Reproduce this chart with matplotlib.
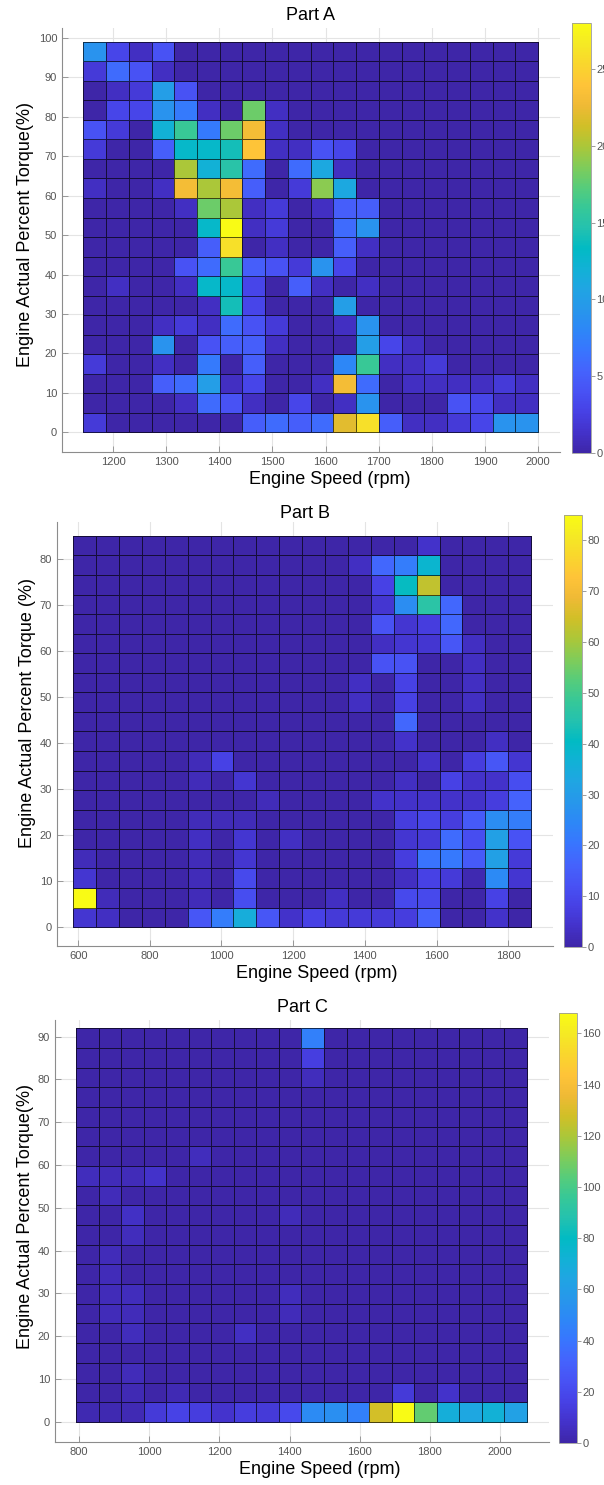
import numpy as np
import matplotlib.pyplot as plt
from matplotlib.colors import LinearSegmentedColormap

# MATLAB parula, sampled every third entry of the 64-colour table
parula_pts = [
    (0.2422, 0.1504, 0.6603), (0.2647, 0.1978, 0.7952), (0.2783, 0.2559, 0.8991),
    (0.2810, 0.3228, 0.9579), (0.2699, 0.3892, 0.9906), (0.2206, 0.4603, 0.9973),
    (0.1786, 0.5289, 0.9682), (0.1540, 0.5902, 0.9218), (0.1248, 0.6459, 0.8883),
    (0.0689, 0.6948, 0.8394), (0.0067, 0.7312, 0.7660), (0.1408, 0.7584, 0.6842),
    (0.2161, 0.7843, 0.5923), (0.3406, 0.8008, 0.4789), (0.5044, 0.7993, 0.3480),
    (0.6720, 0.7793, 0.2227), (0.8203, 0.7498, 0.1535), (0.9393, 0.7288, 0.2100),
    (0.9970, 0.7659, 0.2199), (0.9786, 0.8386, 0.1766), (0.9597, 0.9135, 0.1423),
    (0.9769, 0.9839, 0.0805)]
parula = LinearSegmentedColormap.from_list('parula', parula_pts)

# ---- Part A ----
speed_a = (1144, 2000)   # speed bin range, 20 bins
torque_a = (0, 99)       # torque bin range, 20 bins
# rows from top (high torque) to bottom (low torque)
counts_a = [
    [9, 3, 1, 4, 0, 0, 0, 0, 0, 0, 0, 0, 0, 0, 0, 0, 0, 0, 0, 0],
    [2, 6, 4, 1, 0, 0, 0, 0, 0, 0, 0, 0, 0, 0, 0, 0, 0, 0, 0, 0],
    [0, 1, 2, 10, 4, 0, 0, 0, 0, 0, 0, 0, 0, 0, 0, 0, 0, 0, 0, 0],
    [0, 3, 3, 9, 7, 1, 0, 18, 1, 0, 0, 0, 0, 0, 0, 0, 0, 0, 0, 0],
    [4, 2, 0, 12, 16, 7, 18, 23, 1, 0, 0, 0, 0, 0, 0, 0, 0, 0, 0, 0],
    [2, 0, 0, 5, 13, 13, 14, 24, 1, 1, 4, 3, 0, 0, 0, 0, 0, 0, 0, 0],
    [0, 0, 0, 0, 20, 12, 15, 6, 0, 6, 11, 1, 0, 0, 0, 0, 0, 0, 0, 0],
    [1, 0, 0, 1, 23, 20, 23, 5, 0, 2, 19, 11, 0, 0, 0, 0, 0, 0, 0, 0],
    [0, 0, 0, 0, 1, 18, 20, 1, 2, 0, 1, 5, 5, 0, 0, 0, 0, 0, 0, 0],
    [0, 0, 0, 0, 0, 13, 28, 1, 2, 0, 0, 6, 9, 0, 0, 0, 0, 0, 0, 0],
    [0, 0, 0, 0, 0, 5, 26, 0, 1, 0, 0, 5, 1, 0, 0, 0, 0, 0, 0, 0],
    [0, 0, 0, 0, 4, 6, 16, 5, 4, 2, 9, 3, 0, 0, 0, 0, 0, 0, 0, 0],
    [0, 1, 0, 0, 1, 13, 13, 3, 0, 5, 1, 0, 1, 0, 0, 0, 0, 0, 0, 0],
    [0, 0, 0, 0, 0, 1, 14, 3, 0, 0, 0, 10, 0, 0, 0, 0, 0, 0, 0, 0],
    [0, 0, 0, 1, 2, 1, 6, 4, 2, 0, 0, 1, 9, 0, 0, 0, 0, 0, 0, 0],
    [0, 0, 0, 9, 0, 4, 5, 5, 1, 0, 0, 0, 10, 3, 1, 0, 0, 0, 0, 0],
    [2, 0, 0, 1, 0, 7, 0, 5, 0, 0, 0, 8, 16, 1, 1, 2, 0, 0, 0, 0],
    [0, 0, 0, 5, 6, 10, 1, 3, 0, 0, 1, 23, 6, 0, 1, 1, 1, 1, 2, 1],
    [0, 0, 0, 0, 1, 6, 4, 1, 0, 3, 0, 1, 9, 0, 0, 0, 4, 3, 1, 1],
    [2, 0, 0, 0, 0, 0, 0, 5, 6, 5, 6, 22, 26, 5, 1, 1, 2, 3, 9, 9]]
vmax_a = 28

# ---- Part B ----
speed_b = (586, 1864)
torque_b = (0, 85)
counts_b = [
    [0, 0, 0, 0, 0, 0, 0, 0, 0, 0, 0, 0, 0, 0, 0, 4, 0, 0, 0, 0],
    [0, 0, 0, 0, 0, 0, 0, 0, 0, 0, 0, 0, 3, 17, 22, 38, 0, 0, 0, 0],
    [0, 0, 0, 0, 0, 0, 0, 0, 0, 0, 0, 0, 0, 8, 41, 63, 0, 0, 0, 0],
    [0, 0, 0, 0, 0, 0, 0, 0, 0, 0, 0, 0, 0, 5, 26, 46, 17, 0, 0, 0],
    [0, 0, 0, 0, 0, 0, 0, 0, 0, 0, 0, 0, 0, 12, 5, 7, 17, 0, 0, 0],
    [0, 0, 0, 0, 0, 0, 0, 0, 0, 0, 0, 0, 0, 3, 5, 5, 13, 3, 0, 0],
    [0, 0, 0, 0, 0, 0, 0, 0, 0, 0, 0, 0, 0, 12, 12, 0, 0, 3, 0, 0],
    [0, 0, 0, 0, 0, 0, 0, 0, 0, 0, 0, 0, 3, 0, 8, 0, 0, 3, 0, 0],
    [0, 0, 0, 0, 0, 0, 0, 0, 0, 0, 0, 0, 3, 0, 8, 0, 0, 3, 0, 0],
    [0, 0, 0, 0, 0, 0, 0, 0, 0, 0, 0, 0, 0, 0, 17, 0, 0, 0, 0, 0],
    [0, 0, 0, 0, 0, 0, 0, 0, 0, 0, 0, 0, 0, 0, 4, 0, 0, 0, 3, 0],
    [0, 0, 0, 0, 0, 2, 8, 0, 0, 0, 0, 0, 0, 0, 0, 4, 0, 7, 13, 5],
    [0, 0, 0, 0, 0, 2, 0, 5, 0, 0, 0, 0, 0, 0, 3, 0, 8, 4, 4, 11],
    [0, 0, 0, 0, 0, 0, 0, 0, 2, 0, 0, 0, 0, 4, 4, 4, 4, 4, 7, 16],
    [0, 0, 0, 0, 0, 2, 2, 2, 0, 0, 0, 0, 0, 0, 7, 9, 7, 14, 26, 22],
    [0, 0, 0, 0, 0, 3, 0, 5, 0, 3, 0, 0, 0, 0, 5, 6, 18, 11, 31, 12],
    [2, 0, 0, 0, 0, 2, 0, 5, 0, 0, 0, 0, 0, 0, 7, 20, 21, 14, 31, 6],
    [5, 0, 0, 0, 0, 2, 0, 10, 0, 0, 0, 0, 0, 0, 3, 8, 6, 1, 25, 5],
    [85, 2, 0, 0, 0, 2, 0, 11, 0, 0, 0, 3, 0, 0, 10, 10, 0, 0, 8, 0],
    [5, 3, 0, 0, 0, 13, 22, 35, 13, 4, 8, 6, 6, 6, 7, 16, 0, 0, 4, 0]]
vmax_b = 85

# ---- Part C ----
speed_c = (791, 2077)
torque_c = (0, 92)
counts_c = [
    [0, 0, 0, 0, 0, 0, 0, 0, 0, 0, 45, 0, 0, 0, 0, 0, 0, 0, 0, 0],
    [0, 0, 0, 0, 0, 0, 0, 0, 0, 0, 15, 0, 0, 0, 0, 0, 0, 0, 0, 0],
    [0, 0, 0, 0, 0, 0, 0, 0, 0, 0, 5, 0, 0, 0, 0, 0, 0, 0, 0, 0],
    [0, 0, 0, 0, 0, 0, 0, 0, 0, 0, 0, 0, 0, 0, 0, 0, 0, 0, 0, 0],
    [0, 0, 0, 0, 0, 0, 0, 0, 0, 0, 0, 0, 0, 0, 0, 0, 0, 0, 0, 0],
    [0, 0, 0, 0, 0, 0, 0, 0, 0, 0, 0, 0, 0, 0, 0, 0, 0, 0, 0, 0],
    [0, 0, 0, 0, 0, 5, 0, 0, 0, 0, 0, 0, 0, 0, 0, 0, 0, 0, 0, 0],
    [5, 4, 4, 8, 0, 0, 0, 0, 0, 0, 0, 0, 0, 0, 0, 0, 0, 0, 0, 0],
    [0, 4, 0, 0, 0, 0, 0, 0, 0, 0, 0, 0, 0, 0, 0, 0, 0, 0, 0, 0],
    [0, 0, 7, 0, 0, 0, 0, 0, 0, 4, 0, 0, 0, 0, 0, 0, 0, 0, 0, 0],
    [0, 0, 5, 0, 0, 0, 0, 0, 0, 0, 0, 0, 0, 0, 0, 0, 0, 0, 0, 0],
    [0, 4, 0, 0, 0, 0, 0, 0, 0, 0, 0, 0, 0, 0, 0, 0, 0, 0, 0, 0],
    [0, 4, 0, 0, 0, 0, 0, 0, 0, 0, 0, 0, 0, 0, 0, 0, 0, 0, 0, 0],
    [0, 4, 5, 0, 0, 0, 0, 0, 0, 5, 0, 0, 0, 0, 0, 0, 0, 0, 0, 0],
    [0, 4, 4, 0, 0, 0, 0, 0, 0, 4, 0, 0, 0, 0, 0, 0, 0, 0, 0, 0],
    [0, 0, 5, 0, 0, 0, 0, 6, 0, 0, 0, 0, 0, 0, 0, 0, 0, 0, 0, 0],
    [0, 0, 0, 0, 0, 0, 0, 0, 0, 0, 0, 0, 0, 0, 0, 0, 0, 0, 0, 0],
    [0, 0, 4, 0, 0, 0, 0, 0, 0, 0, 0, 0, 0, 0, 0, 0, 0, 0, 0, 0],
    [0, 0, 3, 0, 3, 0, 0, 0, 0, 0, 0, 0, 0, 0, 12, 0, 8, 0, 0, 0],
    [2, 2, 3, 12, 17, 14, 9, 14, 12, 20, 50, 52, 45, 128, 168, 106, 70, 65, 72, 62]]
vmax_c = 168

W, H = 604, 1485


def px_rect(left, right, top, bottom):
    """pixel box -> figure fraction rect"""
    return [left / W, 1 - bottom / H, (right - left) / W, (bottom - top) / H]


def draw_part(fig, ax_box, cb_box, title, ylabel, speed, torque, counts, vmax,
              xlim, ylim, xticks, yticks, cticks, xlab_x, ylab_y, title_pad=6):
    ax = fig.add_axes(px_rect(*ax_box))
    grid = np.flipud(np.array(counts, dtype=float))
    xe = np.linspace(speed[0], speed[1], grid.shape[1] + 1)
    ye = np.linspace(torque[0], torque[1], grid.shape[0] + 1)
    mesh = ax.pcolormesh(xe, ye, grid, cmap=parula, vmin=0, vmax=vmax,
                         edgecolors=(0, 0, 0, 0.65), linewidth=0.6)
    ax.set_xlim(*xlim)
    ax.set_ylim(*ylim)
    ax.set_xticks(xticks)
    ax.set_yticks(yticks)
    ax.set_axisbelow(True)
    ax.grid(True, color='#e4e4e4', linewidth=0.8)
    for side in ['top', 'right']:
        ax.spines[side].set_visible(False)
    for side in ['left', 'bottom']:
        ax.spines[side].set_color('#8c8c8c')
        ax.spines[side].set_linewidth(0.8)
    ax.tick_params(direction='in', length=4, width=0.6, colors='#8c8c8c',
                   labelcolor='#555555', labelsize=8)
    ax.set_title(title, fontsize=13, pad=title_pad)
    ax.set_xlabel('Engine Speed (rpm)', fontsize=13, labelpad=3)
    ax.xaxis.label.set_x(xlab_x)
    ax.set_ylabel(ylabel, fontsize=13, labelpad=3)
    ax.yaxis.label.set_y(ylab_y)

    cax = fig.add_axes(px_rect(*cb_box))
    cb = fig.colorbar(mesh, cax=cax, ticks=cticks)
    cb.outline.set_edgecolor('#9a9a9a')
    cb.outline.set_linewidth(0.6)
    cax.tick_params(direction='out', length=3, width=0.6, colors='#8c8c8c',
                    labelcolor='#555555', labelsize=8, pad=1)
    return ax


plt.rcParams['font.family'] = ['Liberation Sans', 'DejaVu Sans']
fig = plt.figure(figsize=(W / 100, H / 100), dpi=100)

draw_part(fig, (62, 560, 28, 452), (572, 591, 23, 453), 'Part A',
          'Engine Actual Percent Torque(%)', speed_a, torque_a, counts_a, vmax_a,
          (1104, 2041), (-5, 102.5), range(1200, 2001, 100), range(0, 101, 10),
          [0, 5, 10, 15, 20, 25], 0.538, 0.514)

draw_part(fig, (57, 553, 522, 946), (564, 582, 515, 947), 'Part B',
          'Engine Actual Percent Torque (%)', speed_b, torque_b, counts_b, vmax_b,
          (541, 1925), (-4.1, 88.0), range(600, 1801, 200), range(0, 81, 10),
          range(0, 81, 10), 0.524, 0.55, title_pad=3)

draw_part(fig, (55, 549, 1020, 1442), (559, 577, 1013, 1443), 'Part C',
          'Engine Actual Percent Torque(%)', speed_c, torque_c, counts_c, vmax_c,
          (731, 2140), (-4.7, 93.9), range(800, 2001, 200), range(0, 91, 10),
          range(0, 161, 20), 0.536, 0.535)

fig.savefig('out.png', dpi=100)
